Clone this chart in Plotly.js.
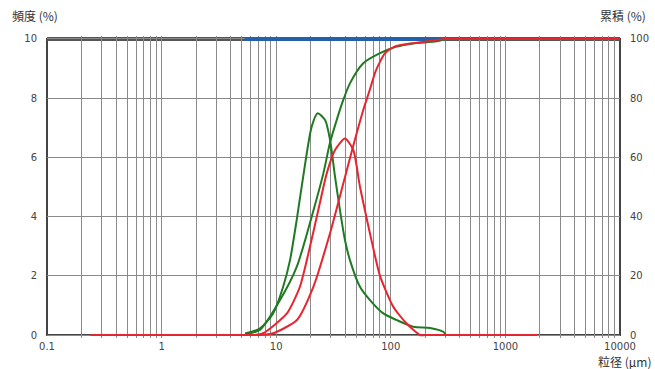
<!DOCTYPE html>
<html>
<head>
<meta charset="utf-8">
<script src="https://cdn.plot.ly/plotly-3.0.1.min.js"></script>
<style>html,body{margin:0;padding:0;background:#fff;}#chart{width:655px;height:369px;}</style>
</head>
<body>
<div id="chart"></div>
<script>
// ---- data ----
var greenFreqSize = [5.35, 7.2, 9.4, 11.5, 13.2, 15.1, 17.2, 20.4, 23.0, 26.7, 29.5, 32.6, 36.0, 39.8, 44.0, 53.8, 65.8, 86, 112, 157, 220, 287, 303];
var greenFreqVal  = [0.05, 0.22, 0.73, 1.63, 2.53, 3.89, 5.35, 7.04, 7.49, 7.26, 6.59, 5.35, 4.22, 3.21, 2.53, 1.63, 1.18, 0.73, 0.51, 0.28, 0.24, 0.11, 0];

var redFreqSize = [0.24, 5.5, 6.5, 7.7, 12.4, 16.1, 19.7, 23.3, 27.6, 32.6, 39.8, 47.1, 53.8, 65.8, 80.5, 105, 138, 180, 200, 1700, 1900];
var redFreqVal  = [0, 0, 0, 0.06, 0.73, 1.63, 2.98, 4.22, 5.46, 6.25, 6.64, 6.25, 5.01, 3.43, 2.0, 0.96, 0.38, 0, 0, 0, 0];

var greenCumSize = [5.35, 7.2, 10.8, 15.1, 21.1, 25.8, 29.5, 33.7, 38.5, 44.0, 57.5, 80.5, 112, 157, 251, 303];
var greenCumVal  = [0.3, 1.7, 11.8, 23, 42, 54.6, 65, 72.6, 79.4, 85, 91.8, 95.2, 97.4, 98.5, 99.2, 100];

var redCumSize = [0.24, 6, 7.2, 9.4, 15.1, 21.1, 29.5, 38.5, 47.1, 57.5, 65.8, 73.5, 89, 108, 150, 220, 290, 330, 9000, 10000];
var redCumVal  = [0, 0, 0, 0.6, 5, 16.3, 34.4, 51.2, 64, 76, 83, 89, 95.2, 97.4, 98.5, 99.3, 100, 100, 100, 100];

var rangeBarSize = [5.3, 300];
var rangeBarVal  = [100, 100];

var decades = [0.1, 1, 10, 100, 1000, 10000];
var decadeLabels = ["0.1", "1", "10", "100", "1000", "10000"];
var yLeftTicks = [0, 2, 4, 6, 8, 10];
var yRightTicks = [0, 20, 40, 60, 80, 100];

// ---- tick positions for log grid ----
var xTickVals = [], xTickText = [];
for (var d = 0; d < decades.length; d++) {
  for (var m = 1; m <= 9; m++) {
    var v = decades[d] * m;
    if (v > 10000) break;
    xTickVals.push(v);
    xTickText.push(m === 1 ? decadeLabels[d] : "");
  }
}

var GREEN = "#1f7a22", RED = "#e8242e", BLUE = "#2461ad";

function tr(x, y, color, width, axis, smooth) {
  var t = {x: x, y: y, mode: "lines", cliponaxis: false, hoverinfo: "skip",
           line: {color: color, width: width}};
  if (smooth) { t.line.shape = "spline"; t.line.smoothing = smooth; }
  if (axis) t.yaxis = axis;
  return t;
}

var traces = [
  tr(greenFreqSize, greenFreqVal, GREEN, 2, null, 0.7),
  tr(redFreqSize, redFreqVal, RED, 2, null, 0.6),
  tr(rangeBarSize, rangeBarVal, BLUE, 4, "y2", 0),
  tr(greenCumSize, greenCumVal, GREEN, 2, "y2", 0.7),
  tr(redCumSize, redCumVal, RED, 2, "y2", 0.6)
];

var tickFont = {family: "DejaVu Sans, sans-serif", size: 10, color: "#444"};
var titleFont = {family: "Noto Sans CJK JP, sans-serif", size: 12, color: "#333"};

var layout = {
  width: 655, height: 369,
  margin: {l: 47, r: 35, t: 36, b: 31, pad: 0},
  paper_bgcolor: "#fff", plot_bgcolor: "#fff",
  showlegend: false,
  xaxis: {
    type: "log", range: [-1, 4],
    tickmode: "array", tickvals: xTickVals, ticktext: xTickText,
    showgrid: true, gridcolor: "#8a8a8a", gridwidth: 1,
    showline: false, ticks: "", tickfont: tickFont, ticklabelstandoff: 1,
    zeroline: false, fixedrange: true
  },
  yaxis: {
    range: [-0.1, 10.1], tickmode: "array", tickvals: yLeftTicks,
    showgrid: true, gridcolor: "#8a8a8a", gridwidth: 1,
    showline: false, ticks: "", tickfont: tickFont, ticklabelstandoff: 9,
    zeroline: false, fixedrange: true
  },
  yaxis2: {
    range: [-1, 101], overlaying: "y", side: "right",
    tickmode: "array", tickvals: yRightTicks,
    showgrid: false, showline: false, zeroline: false,
    ticks: "", tickfont: tickFont, ticklabelstandoff: 9, fixedrange: true
  },
  shapes: [
    {type: "rect", xref: "paper", yref: "y", x0: 0, x1: 1, y0: 0, y1: 10, line: {color: "#444", width: 2}, layer: "below"},
    {type: "line", xref: "paper", yref: "y", x0: 0, x1: 1, y0: 10, y1: 10, line: {color: "#555", width: 4}, layer: "below"}
  ],
  annotations: [
    {text: "頻度 (%)", xref: "paper", yref: "paper", x: 0, y: 1.0, xshift: -37, yshift: 21, xanchor: "left", yanchor: "middle", showarrow: false, font: titleFont},
    {text: "累積 (%)", xref: "paper", yref: "paper", x: 1.0, y: 1.0, xshift: 28, yshift: 21, xanchor: "right", yanchor: "middle", showarrow: false, font: titleFont},
    {text: "粒径 (μm)", xref: "paper", yref: "paper", x: 1.0, y: 0, xshift: 33, yshift: -23, xanchor: "right", yanchor: "middle", showarrow: false, font: titleFont}
  ]
};

Plotly.newPlot("chart", traces, layout, {displayModeBar: false, staticPlot: true});
</script>
</body>
</html>
